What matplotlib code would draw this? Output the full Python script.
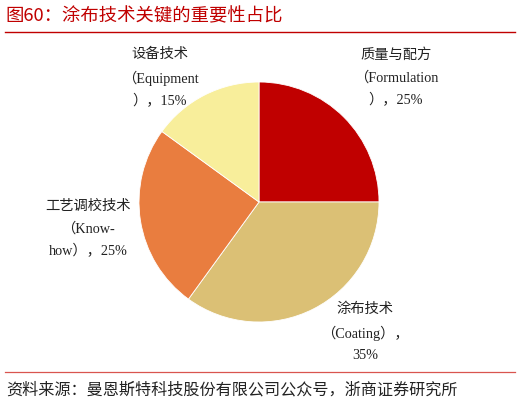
import matplotlib.pyplot as plt
from matplotlib.lines import Line2D

# data
labels = ["质量与配方\n（Formulation\n），25%", "涂布技术\n（Coating），\n35%",
          "工艺调校技术\n（Know-\nhow），25%", "设备技术\n（Equipment\n），15%"]
values = [25, 35, 25, 15]
colors = ["#C00000", "#DBC075", "#E97D3F", "#F8EE9B"]
label_pos = [(396, 78), (365, 332), (88, 229), (160, 78)]  # pixel centres of label blocks

title = "图60：涂布技术关键的重要性占比"
source = "资料来源：曼恩斯特科技股份有限公司公众号，浙商证券研究所"

W, H = 520, 403
fig = plt.figure(figsize=(W / 100, H / 100), dpi=100)

# pie: centre (259, 202) px, radius 120 px
cx, cy, r = 259, 202, 120
ax = fig.add_axes([(cx - r) / W, (H - cy - r) / H, 2 * r / W, 2 * r / H])
ax.pie(values, colors=colors, startangle=90, counterclock=False,
       wedgeprops=dict(edgecolor="white", linewidth=0.6))
ax.set_xlim(-1, 1)
ax.set_ylim(-1, 1)
ax.set_aspect("equal")
ax.axis("off")

lab_font = ["Liberation Serif", "Noto Sans CJK SC"]
for txt, (px, py) in zip(labels, label_pos):
    fig.text(px / W, 1 - py / H, txt, ha="center", va="center",
             fontsize=10.3, family=lab_font, linespacing=1.8, color="#222222")

# title and source
fig.text(5 / W, 1 - 16 / H, title, ha="left", va="center", fontsize=13.2,
         color="#C00000", family=["Noto Sans CJK SC", "DejaVu Sans"])
fig.add_artist(Line2D([5 / W, 515 / W], [1 - 32 / H, 1 - 32 / H],
                      color="#C00000", linewidth=1.0))
fig.add_artist(Line2D([5 / W, 515 / W], [1 - 372 / H, 1 - 372 / H],
                      color="#D9544F", linewidth=0.9))
fig.text(6 / W, 1 - 390 / H, source, ha="left", va="center", fontsize=11.6,
         color="#222222", family=["Noto Sans CJK SC", "DejaVu Sans"])

fig.savefig("out.png", dpi=100)
